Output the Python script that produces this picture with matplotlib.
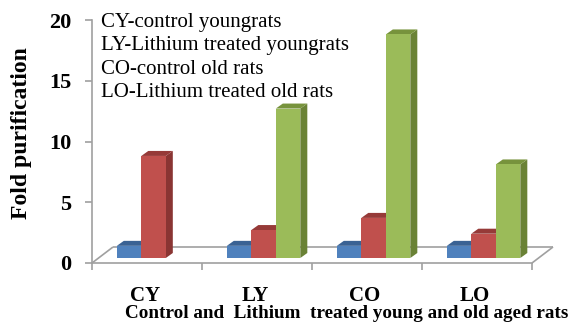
import matplotlib
matplotlib.use("Agg")
import matplotlib.pyplot as plt
from matplotlib.patches import Polygon
import matplotlib.transforms as mtransforms

# Data
groups = ["CY", "LY", "CO", "LO"]
blue_vals = [1.0, 1.0, 1.0, 1.0]
red_vals = [8.4, 2.3, 3.3, 2.0]
green_vals = [0.0, 12.3, 18.4, 7.7]
legend_lines = [
    "CY-control youngrats",
    "LY-Lithium treated youngrats",
    "CO-control old rats",
    "LO-Lithium treated old rats",
]
y_ticks = [0, 5, 10, 15, 20]
x_title = "Control and  Lithium  treated young and old aged rats"
y_title = "Fold purification"

# Face colours: front, top, side
series_colors = [
    ("#4F81BD", "#3A6294", "#35598A"),
    ("#C0504D", "#963A38", "#8A3533"),
    ("#9BBB59", "#77933C", "#6A8236"),
]

W, H = 573, 324
fig = plt.figure(figsize=(W / 100, H / 100), dpi=100)
fig.patch.set_facecolor("white")

ax_left, ax_right, ax_bot, ax_top = 92, 560, 263, 20
ax = fig.add_axes([ax_left / W, 1 - ax_bot / H,
                   (ax_right - ax_left) / W, (ax_bot - ax_top) / H])
px_x = 110.0                      # pixels per category
px_y = (ax_bot - ax_top) / 20.0   # pixels per value unit
ax.set_xlim(0, (ax_right - ax_left) / px_x)
ax.set_ylim(0, 20)

serif = "Liberation Serif"
grey = "#A0A0A0"

# Floor (oblique projection)
fdx, fdy = 21 / px_x, 16 / px_y
n = len(groups)
floor_kw = dict(color=grey, lw=1.2, zorder=1, clip_on=False, solid_capstyle="butt")
ax.plot([0, fdx], [0, fdy], **floor_kw)
ax.plot([fdx, n + fdx], [fdy, fdy], **floor_kw)
ax.plot([n, n + fdx], [0, fdy], **floor_kw)

# Bars
bar_w = 24.5 / px_x
depth_frac = 5 / 16
base_y = fdy * depth_frac
base_dx = fdx * depth_frac
bdx, bdy = 7 / px_x, 5 / px_y

series = [blue_vals, red_vals, green_vals]
for gi in range(n):
    left0 = gi + 0.5 - 1.5 * bar_w + base_dx
    for si, vals in enumerate(series):
        v = vals[gi]
        if v <= 0:
            continue
        front, top, side = series_colors[si]
        x0 = left0 + si * bar_w
        x1 = x0 + bar_w
        y0, y1 = base_y, base_y + v
        z = 3 + gi * 3 + si
        ax.add_patch(Polygon([(x1, y0), (x1 + bdx, y0 + bdy), (x1 + bdx, y1 + bdy), (x1, y1)],
                             closed=True, facecolor=side, edgecolor="none", zorder=z, clip_on=False))
        ax.add_patch(Polygon([(x0, y1), (x1, y1), (x1 + bdx, y1 + bdy), (x0 + bdx, y1 + bdy)],
                             closed=True, facecolor=top, edgecolor="none", zorder=z, clip_on=False))
        ax.bar(x0, v, width=bar_w, bottom=y0, align="edge", color=front,
               edgecolor="none", zorder=z, clip_on=False)

# Axes styling
for s in ("top", "right"):
    ax.spines[s].set_visible(False)
for s in ("left", "bottom"):
    ax.spines[s].set_color(grey)
    ax.spines[s].set_linewidth(1.2)
ax.spines["bottom"].set_bounds(0, n)
ax.set_xticks(range(n + 1))
ax.set_xticklabels([])
ax.set_yticks(y_ticks)
ax.set_yticklabels([str(t) for t in y_ticks], fontfamily=serif,
                   fontweight="bold", fontsize=16)
ax.tick_params(axis="both", direction="out", length=5, width=1.2, color=grey)
ax.tick_params(axis="y", pad=10)
ax.set_facecolor("none")

# Category labels under the floor
trans = mtransforms.blended_transform_factory(ax.transData, fig.transFigure)
for gi, g in enumerate(groups):
    ax.text(gi + 0.48, 1 - 296 / H, g, transform=trans, ha="center", va="center",
            fontfamily=serif, fontweight="bold", fontsize=15)

fig.text(347 / W, 1 - 314 / H, x_title, ha="center", va="center",
         fontfamily=serif, fontweight="bold", fontsize=13.8)
fig.text(22 / W, 1 - 133 / H, y_title, ha="center", va="center", rotation=90,
         fontfamily=serif, fontweight="bold", fontsize=17)

# Key text in the upper left
for i, line in enumerate(legend_lines):
    fig.text(101 / W, 1 - (27 + i * 23.3) / H, line, ha="left", va="baseline",
             fontfamily=serif, fontsize=15)

fig.savefig("out.png", dpi=100, facecolor="white")
